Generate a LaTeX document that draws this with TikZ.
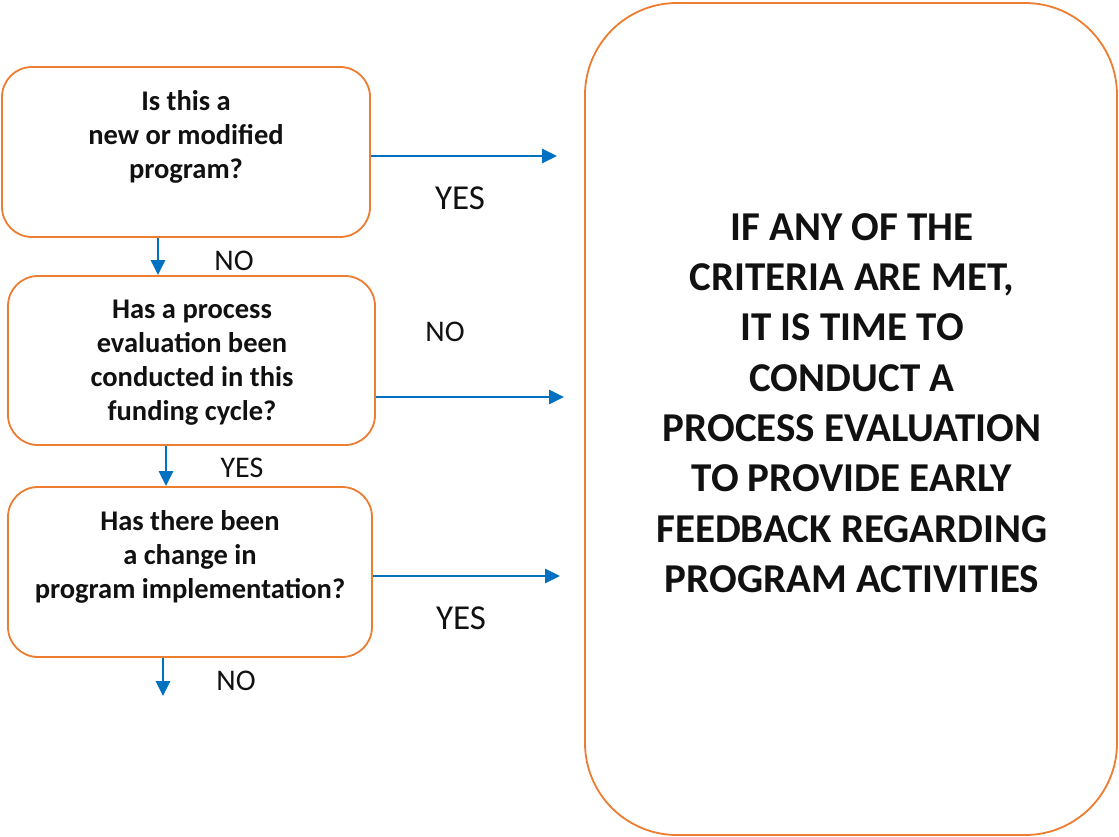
\documentclass[tikz,border=0pt]{standalone}
\usepackage{fontspec}
\setmainfont{Carlito}
\usetikzlibrary{arrows.meta}
\definecolor{boxorange}{HTML}{ED7D31}
\definecolor{arrowblue}{HTML}{0070C0}
\definecolor{txt}{HTML}{111111}
\begin{document}
\begin{tikzpicture}[x=1pt,y=-1pt,
  qbox/.style={draw=boxorange, line width=1.8pt, rounded corners=30pt, fill=white, inner sep=0pt},
  qtext/.style={align=center, font=\fontsize{28.5}{34}\selectfont\bfseries, text=txt},
  bigtext/.style={align=center, font=\fontsize{41}{50.3}\selectfont\bfseries, text=txt},
  lbl/.style={font=\fontsize{30}{34}\selectfont, text=txt},
  biglbl/.style={font=\fontsize{35}{40}\selectfont, text=txt},
  arr/.style={draw=arrowblue, line width=2.6pt, -{Triangle[length=15pt,width=14pt]}}]
\useasboundingbox (0,0) rectangle (1119,837);
% boxes
\node[qbox, minimum width=368pt, minimum height=170pt] (b1) at (186,152) {};
\node[qbox, minimum width=367pt, minimum height=169pt] (b2) at (191.5,360.5) {};
\node[qbox, minimum width=364pt, minimum height=170pt] (b3) at (190,572) {};
\node[qbox, rounded corners=92pt, minimum width=532pt, minimum height=832pt] (big) at (851,419) {};
% texts
\node[qtext] (t1) at (186,137) {Is this a\\new or modified\\program?};
\node[qtext] (t2) at (192,363) {Has a process\\evaluation been\\conducted in this\\funding cycle?};
\node[qtext] (t3) at (190,557) {Has there been\\a change in\\program implementation?};
\node[bigtext] (tb) at (852,403) {IF ANY OF THE\\CRITERIA ARE MET,\\IT IS TIME TO\\CONDUCT A\\PROCESS EVALUATION\\TO PROVIDE EARLY\\FEEDBACK REGARDING\\PROGRAM ACTIVITIES};
% arrow coordinates
\coordinate (e1) at (557,156);
\coordinate (e2) at (564,397);
\coordinate (e3) at (560,576);
\coordinate (d3) at (163,696);
\draw[arr] (b1.east |- e1) -- (e1);
\draw[arr] (b2.east |- e2) -- (e2);
\draw[arr] (b3.east |- e3) -- (e3);
\draw[arr] (b1.south -| 158,0) -- (b2.north -| 158,0);
\draw[arr] (b2.south -| 166,0) -- (b3.north -| 166,0);
\draw[arr] (b3.south -| d3) -- (d3);
% labels
\node[biglbl] (y1) at (460,198) {YES};
\node[lbl] (n1) at (234,261) {NO};
\node[lbl] (n2) at (445,332) {NO};
\node[lbl] (y2) at (242,468) {YES};
\node[biglbl] (y3) at (461,618) {YES};
\node[lbl] (n3) at (236,681) {NO};
\end{tikzpicture}
\end{document}
